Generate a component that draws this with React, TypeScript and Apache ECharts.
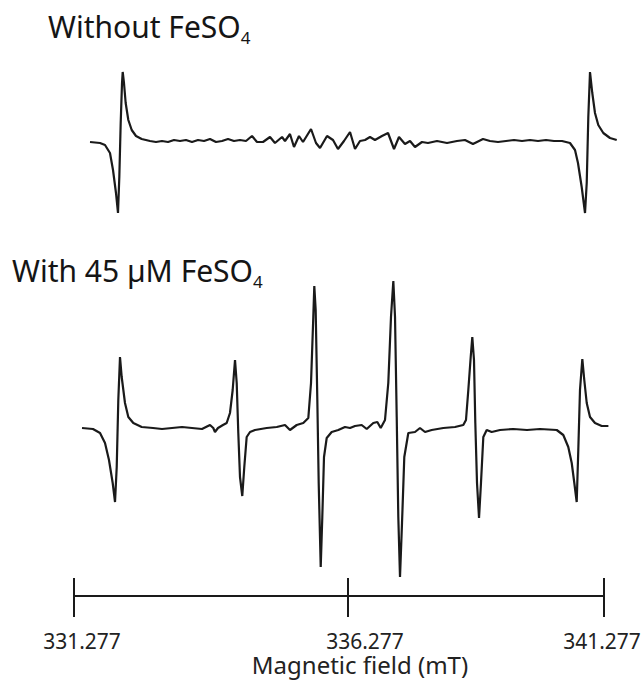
import React, { useEffect, useRef } from "react";
import * as echarts from "echarts";

// Axis (mT)
const fieldMin = 331.277;
const fieldMax = 341.277;
const plotFieldMax = 341.6; // spectra run slightly past the last tick
const tickValues = [331.277, 336.447, 341.277];
const tickLabels = ["331.277", "336.277", "341.277"];
const tickLabelValues = [331.428, 336.768, 341.239];
const axisTitle = "Magnetic field (mT)";

const titleTop = ["Without FeSO", "4"];
const titleBottom = ["With 45 \u00b5M FeSO", "4"];

// Spectrum without FeSO4 (field in mT, signal in arbitrary units)
const topField = [
  331.579, 331.768, 331.862, 331.956, 332.013, 332.069, 332.107, 332.132, 332.158, 332.183,
  332.196, 332.22, 332.252, 332.302, 332.366, 332.447, 332.554, 332.711, 332.824, 332.937,
  333.051, 333.164, 333.277, 333.39, 333.503, 333.617, 333.73, 333.843, 333.956, 334.069,
  334.183, 334.296, 334.409, 334.522, 334.635, 334.73, 334.843, 334.975, 335.069, 335.202,
  335.258, 335.352, 335.428, 335.522, 335.598, 335.749, 335.843, 335.919, 336.051, 336.164,
  336.258, 336.371, 336.485, 336.579, 336.673, 336.768, 336.862, 336.956, 337.088, 337.202,
  337.315, 337.409, 337.522, 337.617, 337.711, 337.843, 337.956, 338.126, 338.315, 338.503,
  338.654, 338.805, 338.994, 339.126, 339.277, 339.428, 339.579, 339.73, 339.881, 340.032,
  340.183, 340.334, 340.485, 340.635, 340.73, 340.786, 340.856, 340.919, 340.951, 340.981,
  341.013, 341.056, 341.107, 341.169, 341.264, 341.39, 341.517,
];
const topSignal = [
  -1, -2, -4, -12, -29, -52, -72, -36, 18, 58,
  69, 58, 38, 21, 11, 5, 2, 0, -1, 0,
  -1, 1, 0, 1, -1, 1, 0, 2, -1, 0,
  2, 0, 1, 0, 5, -1, -1, 4, -2, 4,
  0, 7, -6, 5, -1, 12, -2, -7, 5, 1,
  -8, 0, 9, -8, 0, 1, 4, 1, 5, 8,
  -8, 4, -3, 0, -6, -1, -2, 0, -2, 0,
  1, -3, 2, 0, -1, 0, 1, 0, 1, 0,
  1, 0, 0, -2, -9, -22, -46, -72, -42, 24,
  69, 48, 28, 16, 8, 3, 1,
];

// Spectrum with 45 uM FeSO4
const bottomField = [
  331.428, 331.635, 331.768, 331.862, 331.937, 332.007, 332.051, 332.083, 332.113, 332.145,
  332.177, 332.239, 332.302, 332.396, 332.554, 332.768, 332.937, 333.126, 333.315, 333.503,
  333.692, 333.843, 333.905, 333.937, 333.994, 334.088, 334.158, 334.22, 334.271, 334.315,
  334.347, 334.377, 334.409, 334.452, 334.49, 334.535, 334.598, 334.692, 334.913, 335.102,
  335.258, 335.352, 335.479, 335.603, 335.698, 335.749, 335.792, 335.811, 335.837, 335.868,
  335.894, 335.932, 335.962, 335.994, 336.045, 336.139, 336.264, 336.39, 336.485, 336.579,
  336.705, 336.8, 336.924, 337.0, 337.064, 337.145, 337.207, 337.258, 337.302, 337.334,
  337.366, 337.396, 337.428, 337.466, 337.509, 337.585, 337.711, 337.805, 337.9, 338.026,
  338.245, 338.466, 338.622, 338.673, 338.717, 338.762, 338.792, 338.824, 338.849, 338.881,
  338.919, 338.956, 339.0, 339.064, 339.158, 339.315, 339.566, 339.824, 340.069, 340.385,
  340.509, 340.603, 340.668, 340.717, 340.762, 340.792, 340.824, 340.868, 340.905, 340.951,
  341.013, 341.107, 341.234, 341.36,
];
const bottomSignal = [
  0, -1, -5, -15, -32, -55, -74, -39, 28, 71,
  51, 25, 11, 5, 1, 0, -1, 0, 1, 0,
  -1, 3, 0, -4, 0, 3, 5, 15, 38, 68,
  45, -5, -49, -68, -39, -9, -4, -2, 0, 1,
  3, -2, 3, 5, 10, 45, 111, 142, 118, 28,
  -55, -139, -89, -29, -10, -4, -2, 1, 0, 2,
  3, -1, 5, 6, 0, 8, 45, 111, 147, 111,
  11, -89, -149, -95, -29, -5, -4, 0, -4, -2,
  0, 1, 3, 8, 38, 71, 91, 68, 5, -55,
  -90, -55, -9, -2, -4, -2, -1, -2, -1, -2,
  -7, -19, -35, -55, -74, -22, 38, 69, 48, 25,
  11, 5, 2, 2,
];

const FONT = '"Noto Sans", "DejaVu Sans", sans-serif';
const INK = "#1a1a1a";

const AXIS_LEFT = 74;
const AXIS_WIDTH = 530;
const PLOT_WIDTH = (AXIS_WIDTH * (plotFieldMax - fieldMin)) / (fieldMax - fieldMin);

function pairs(xs: number[], ys: number[]) {
  return xs.map((x, i) => [x, ys[i]]);
}

function labelFor(v: number) {
  let best = 0;
  for (let i = 1; i < tickLabelValues.length; i++) {
    if (Math.abs(tickLabelValues[i] - v) < Math.abs(tickLabelValues[best] - v)) best = i;
  }
  return tickLabels[best];
}

function titleText(x: number, y: number, parts: string[]) {
  return {
    type: "text",
    x,
    y,
    silent: true,
    style: {
      text: `{t|${parts[0]}}{s|${parts[1]}}`,
      align: "left",
      verticalAlign: "top",
      rich: {
        t: { fontSize: 30, fontFamily: FONT, fill: "#151515", lineHeight: 30, verticalAlign: "top" },
        s: { fontSize: 17, fontFamily: FONT, fill: "#151515", lineHeight: 35, verticalAlign: "bottom" },
      },
    },
  };
}

export default function App() {
  const ref = useRef<HTMLDivElement>(null);
  useEffect(() => {
    if (!ref.current) return;
    const chart = echarts.init(ref.current, undefined, { renderer: "svg" });
    const tickLine = { color: INK, width: 2 };
    const option = {
      animation: false,
      backgroundColor: "#ffffff",
      grid: [
        { left: AXIS_LEFT, width: PLOT_WIDTH, top: 41, height: 200 },
        { left: AXIS_LEFT, width: PLOT_WIDTH, top: 268, height: 328 },
        { left: AXIS_LEFT, width: AXIS_WIDTH, top: 268, height: 328 },
      ],
      xAxis: [
        { type: "value", gridIndex: 0, min: fieldMin, max: plotFieldMax, show: false },
        { type: "value", gridIndex: 1, min: fieldMin, max: plotFieldMax, show: false },
        {
          type: "value",
          gridIndex: 2,
          min: fieldMin,
          max: fieldMax,
          position: "bottom",
          splitLine: { show: false },
          axisLine: { show: true, onZero: false, lineStyle: { color: INK, width: 2 } },
          axisTick: { show: true, customValues: tickValues, length: 21, lineStyle: tickLine },
          axisLabel: {
            show: true,
            customValues: tickLabelValues,
            formatter: (v: number) => labelFor(v),
            margin: 37,
            color: "#222",
            fontSize: 21,
            lineHeight: 16,
            fontFamily: FONT,
          },
          name: axisTitle,
          nameLocation: "middle",
          nameGap: 59,
          nameTextStyle: {
            fontSize: 24,
            lineHeight: 18,
            color: "#222",
            fontFamily: FONT,
            padding: [0, 0, 0, 42],
          },
        },
        {
          type: "value",
          gridIndex: 2,
          min: fieldMin,
          max: fieldMax,
          position: "bottom",
          splitLine: { show: false },
          axisLine: { show: false, onZero: false },
          axisTick: { show: true, inside: true, customValues: tickValues, length: 18, lineStyle: tickLine },
          axisLabel: { show: false },
        },
      ],
      yAxis: [
        { type: "value", gridIndex: 0, min: -100, max: 100, show: false },
        { type: "value", gridIndex: 1, min: -168, max: 160, show: false },
        { type: "value", gridIndex: 2, min: -168, max: 160, show: false },
      ],
      series: [
        {
          type: "line",
          name: titleTop.join(""),
          xAxisIndex: 0,
          yAxisIndex: 0,
          data: pairs(topField, topSignal),
          symbol: "none",
          clip: false,
          silent: true,
          lineStyle: { color: INK, width: 2.2 },
        },
        {
          type: "line",
          name: titleBottom.join(""),
          xAxisIndex: 1,
          yAxisIndex: 1,
          data: pairs(bottomField, bottomSignal),
          symbol: "none",
          clip: false,
          silent: true,
          lineStyle: { color: INK, width: 2.2 },
        },
      ],
      graphic: [titleText(48, 11, titleTop), titleText(12, 255, titleBottom)],
    };
    chart.setOption(option as any);
    return () => chart.dispose();
  }, []);
  return (
    <div
      ref={ref}
      style={{ position: "fixed", left: 0, top: 0, width: 644, height: 680, background: "#fff" }}
    />
  );
}
